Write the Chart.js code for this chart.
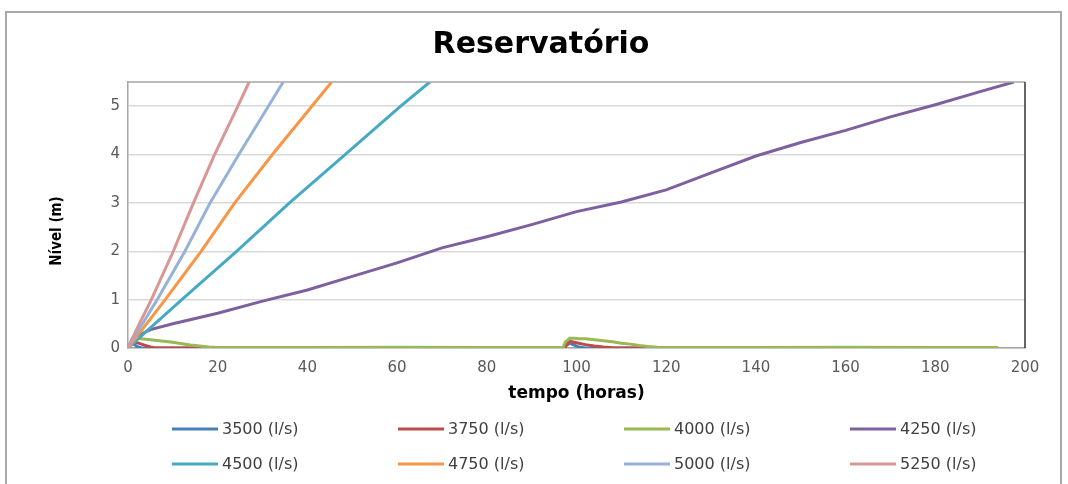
<!DOCTYPE html>
<html>
<head>
<meta charset="utf-8">
<script src="https://cdn.jsdelivr.net/npm/chart.js@4"></script>
<style>
  html, body { margin: 0; padding: 0; background: #fff; overflow: hidden; }
  #wrap { position: relative; width: 1068px; height: 484px; }
  #frame { position: absolute; left: 5px; top: 11px; width: 1057px; height: 490px; border: 2px solid #a9a9a9; box-sizing: border-box; }
  canvas { position: absolute; left: 0; top: 0; }
</style>
</head>
<body>
<div id="wrap">
  <div id="frame"></div>
  <canvas id="chart" width="1068" height="484"></canvas>
</div>
<script>
// series names
var seriesNames = ['3500 (l/s)', '3750 (l/s)', '4000 (l/s)', '4250 (l/s)', '4500 (l/s)', '4750 (l/s)', '5000 (l/s)', '5250 (l/s)'];
var seriesColors = ['#4a7ebb', '#be4b48', '#98b954', '#7d60a0', '#46aac5', '#f79646', '#95b3d7', '#d99694'];

// low flow series (share the same time steps)
var lowHours = [0, 1, 2, 3, 4, 5, 6, 8, 10, 12, 14, 16, 18, 20, 40, 60, 80, 97, 97.5, 98.5,
  99.5, 100.5, 102, 104, 106, 108, 110, 112, 114, 116, 118, 140, 160, 180, 194];
var nivel3500 = [0, 0.1, 0.03, 0, 0, 0, 0, 0, 0, 0, 0, 0, 0, 0, 0, 0, 0, 0, 0.04, 0.1,
  0.06, 0.02, 0, 0, 0, 0, 0, 0, 0, 0, 0, 0, 0, 0, 0];
var nivel3750 = [0, 0.14, 0.11, 0.08, 0.05, 0.02, 0, 0, 0, 0, 0, 0, 0, 0, 0, 0, 0, 0, 0.03, 0.14,
  0.12, 0.1, 0.07, 0.04, 0.02, 0.005, 0, 0, 0, 0, 0, 0, 0, 0, 0];
var nivel4000 = [0, 0.17, 0.2, 0.19, 0.18, 0.17, 0.16, 0.14, 0.12, 0.09, 0.06, 0.04, 0.02, 0.01, 0.01, 0.015, 0.01, 0.01, 0.12, 0.2,
  0.2, 0.19, 0.19, 0.17, 0.15, 0.13, 0.1, 0.08, 0.05, 0.03, 0.015, 0.01, 0.015, 0.01, 0.01];

// rising series
var hours4250 = [0, 1, 5, 10, 20, 30, 40, 50, 60, 70, 80, 90, 100, 110, 120, 130, 140, 150, 160, 170, 180, 190, 197.5];
var nivel4250 = [0, 0.2, 0.38, 0.5, 0.72, 0.97, 1.2, 1.48, 1.76, 2.07, 2.3, 2.55, 2.82, 3.02, 3.27, 3.62, 3.97, 4.25, 4.5, 4.78, 5.03, 5.3, 5.5];
var hours4500 = [0, 2, 12, 24.2, 36, 48.4, 60.8, 67.3];
var nivel4500 = [0, 0.17, 1, 2, 3, 4, 5, 5.5];
var hours4750 = [0, 2, 8.3, 16.3, 23.8, 32.2, 41, 45.4];
var nivel4750 = [0, 0.24, 1, 2, 3, 4, 5, 5.5];
var hours5000 = [0, 2, 6.5, 12.7, 18.3, 24.7, 31.3, 34.6];
var nivel5000 = [0, 0.31, 1, 2, 3, 4, 5, 5.5];
var hours5250 = [0, 2, 5.2, 10.1, 14.6, 19.3, 24.5, 27];
var nivel5250 = [0, 0.4, 1, 2, 3, 4, 5, 5.5];

var allHours = [lowHours, lowHours, lowHours, hours4250, hours4500, hours4750, hours5000, hours5250];
var allNivel = [nivel3500, nivel3750, nivel4000, nivel4250, nivel4500, nivel4750, nivel5000, nivel5250];

var FONT = "'DejaVu Sans', sans-serif";

function points(h, v) {
  return h.map(function(x, i) { return { x: x, y: v[i] }; });
}

var datasets = seriesNames.map(function(name, i) {
  return {
    label: name,
    data: points(allHours[i], allNivel[i]),
    borderColor: seriesColors[i],
    backgroundColor: seriesColors[i],
    borderWidth: 3,
    pointRadius: 0,
    tension: 0,
    order: seriesNames.length - i // later series on top, like excel
  };
});

// plot box edges, titles, and a legend laid out in a 4 column grid
var extras = {
  id: 'extras',
  afterDatasetsDraw: function(chart) {
    var a = chart.chartArea, c = chart.ctx;
    c.save();
    c.strokeStyle = '#a6a6a6';
    c.lineWidth = 1.5;
    c.beginPath();
    c.moveTo(a.left, a.top);
    c.lineTo(a.right, a.top);
    c.stroke();
    c.strokeStyle = '#333';
    c.beginPath();
    c.moveTo(a.right, a.top);
    c.lineTo(a.right, a.bottom);
    c.stroke();
    c.restore();
  },
  afterDraw: function(chart) {
    var c = chart.ctx;
    c.save();
    // chart title
    c.fillStyle = '#000';
    c.textAlign = 'center';
    c.textBaseline = 'middle';
    c.font = 'bold 30px ' + FONT;
    c.fillText('Reservatório', 541, 45);
    // y axis title
    c.save();
    c.translate(57, 231);
    c.rotate(-Math.PI / 2);
    c.font = "bold 15px 'DejaVu Sans Condensed', 'DejaVu Sans', sans-serif";
    c.fillText('Nível (m)', 0, 0);
    c.restore();
    // legend
    c.font = '16px ' + FONT;
    c.textAlign = 'left';
    c.fillStyle = '#404040';
    chart.data.datasets.forEach(function(ds, i) {
      var x = 172 + (i % 4) * 226;
      var y = 429 + Math.floor(i / 4) * 35;
      c.strokeStyle = ds.borderColor;
      c.lineWidth = 3;
      c.beginPath();
      c.moveTo(x, y);
      c.lineTo(x + 46, y);
      c.stroke();
      c.fillText(ds.label, x + 50, y + 1);
    });
    c.restore();
  }
};

var ctx = document.getElementById('chart').getContext('2d');
var chart = new Chart(ctx, {
  type: 'line',
  data: { datasets: datasets },
  plugins: [extras],
  options: {
    responsive: false,
    animation: false,
    layout: { padding: { left: 0, right: 43, top: 82, bottom: 76 } },
    plugins: {
      legend: { display: false },
      tooltip: { enabled: false },
      title: { display: false }
    },
    scales: {
      x: {
        type: 'linear',
        min: 0,
        max: 200,
        ticks: { stepSize: 20, color: '#595959', padding: 11, font: { family: FONT, size: 15 }, maxRotation: 0 },
        grid: { display: false, drawTicks: false },
        border: { color: '#a6a6a6', width: 1.5 },
        title: {
          display: true,
          text: 'tempo (horas)',
          color: '#000',
          font: { family: FONT, size: 17, weight: 'bold', lineHeight: 1.2 },
          padding: { top: 0, bottom: 4 }
        },
        afterFit: function(scale) { scale.height = 60; }
      },
      y: {
        min: 0,
        max: 5.5,
        ticks: { stepSize: 1, color: '#595959', padding: 8, font: { family: FONT, size: 15 } },
        grid: { color: '#d9d9d9', lineWidth: 1.5, drawTicks: false },
        border: { color: '#a6a6a6', width: 1.5 },
        afterBuildTicks: function(scale) {
          scale.ticks = scale.ticks.filter(function(t) { return Number.isInteger(t.value); });
        },
        afterFit: function(scale) { scale.width = 128; }
      }
    }
  }
});
</script>
</body>
</html>
